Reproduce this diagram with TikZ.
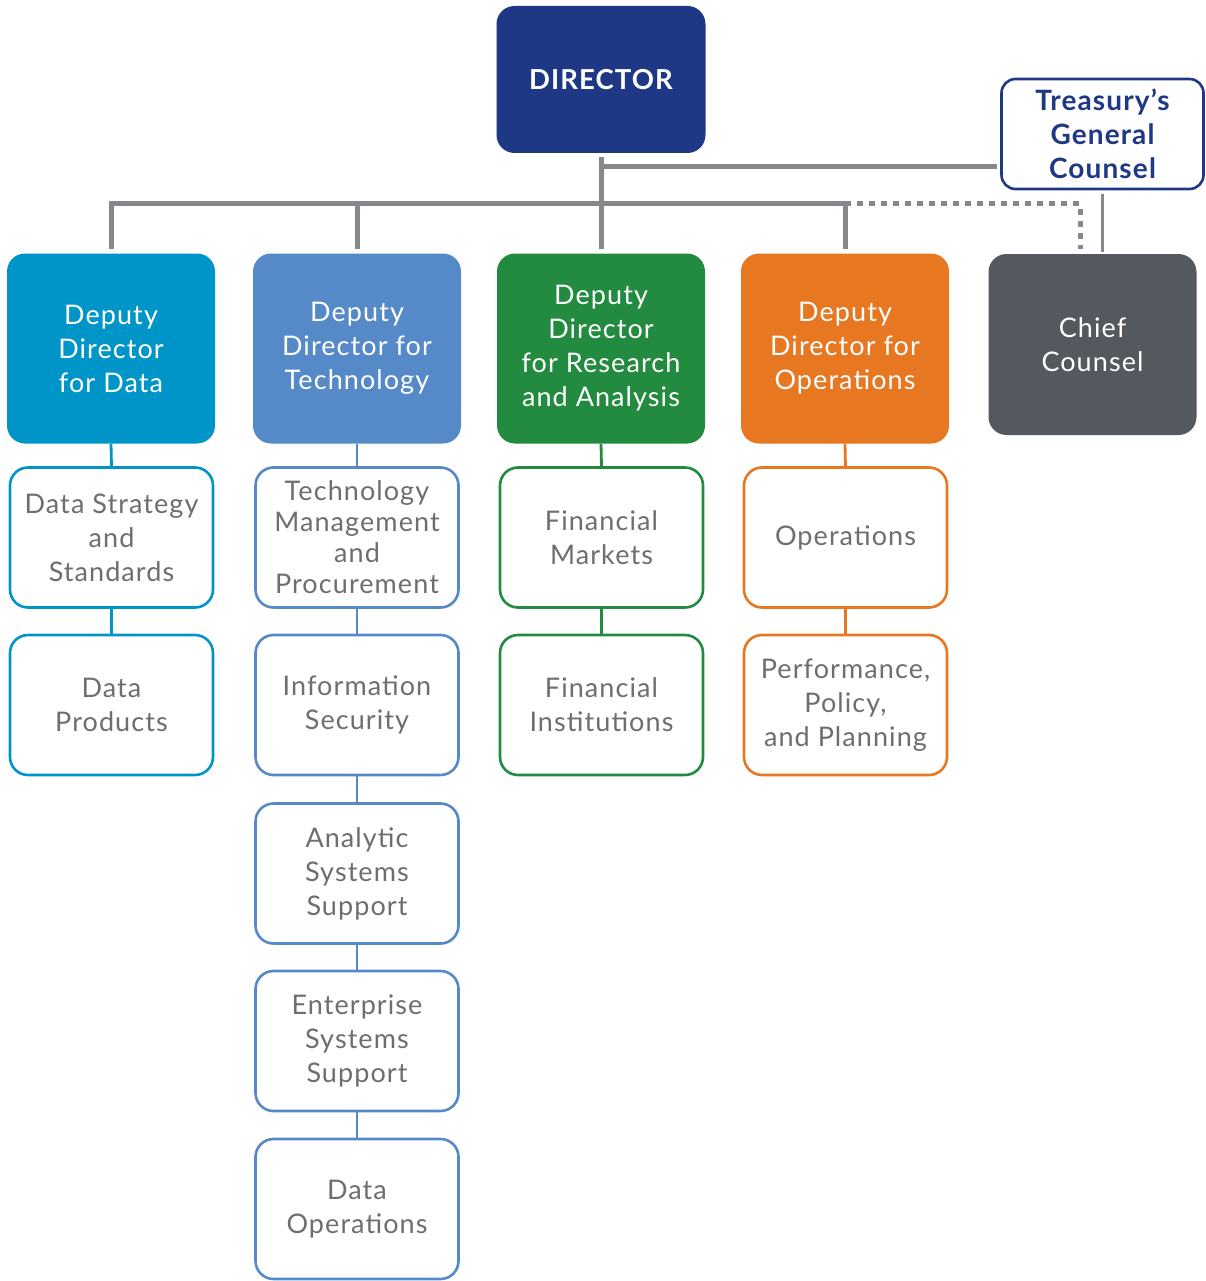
\documentclass[tikz,border=0pt]{standalone}
\usepackage{fontspec}
\setmainfont{Lato}[LetterSpace=4]
\definecolor{cNavy}{HTML}{1F3886}
\definecolor{cData}{HTML}{0095C8}
\definecolor{cTech}{HTML}{5689C8}
\definecolor{cRes}{HTML}{238B3F}
\definecolor{cOps}{HTML}{E87722}
\definecolor{cCC}{HTML}{54585F}
\definecolor{cTxt}{HTML}{6D6E71}
\definecolor{cLine}{HTML}{87888B}
\tikzset{
  box/.style={rectangle, rounded corners=18pt, align=center, inner sep=0pt,
    font=\fontsize{27}{34}\selectfont},
  dep/.style={box, minimum width=208pt, minimum height=190pt, text=white},
  sub/.style={box, draw=#1, line width=2.6pt, fill=white, minimum width=203pt,
    minimum height=140pt, text=cTxt},
  gline/.style={draw=cLine, line width=5pt, line join=miter},
  cline/.style={draw=#1, line width=2.8pt},
}
\begin{document}
\begin{tikzpicture}[x=1pt,y=-1pt]
\useasboundingbox (0,0) rectangle (1205,1281);
% top
\node[box, fill=cNavy, minimum width=209pt, minimum height=147pt, text=white,
  font=\fontsize{27.5}{34}\selectfont\bfseries] (dir) at (601,79.5) {DIRECTOR};
\node[box, draw=cNavy, line width=2.6pt, fill=white, minimum width=202pt,
  minimum height=110pt, rounded corners=14pt, text=cNavy,
  font=\fontsize{28}{34}\selectfont\bfseries] (gc) at (1102.5,134) {Treasury’s\\General\\Counsel};
% deputies
\node[dep, fill=cData] (dd) at (111,348.5) {Deputy\\Director\\for Data};
\node[dep, fill=cTech] (td) at (357,348.5) {Deputy\\Director for\\Technology};
\node[dep, fill=cRes] (rd) at (601,348.5) {Deputy\\Director\\for Research\\and Analysis};
\node[dep, fill=cOps] (od) at (845,348.5) {Deputy\\Director for\\Operations};
\node[dep, fill=cCC, minimum height=181pt] (cc) at (1092.5,344.5) {Chief\\Counsel};
% data column
\node[sub=cData] (d1) at (111.5,537.5) {Data Strategy\\and\\Standards};
\node[sub=cData] (d2) at (111.5,705) {Data\\Products};
% tech column
\node[sub=cTech, font=\fontsize{27}{31}\selectfont] (t1) at (357,537.5) {Technology\\Management\\and\\Procurement};
\node[sub=cTech] (t2) at (357,705) {Information\\Security};
\node[sub=cTech] (t3) at (357,873.5) {Analytic\\Systems\\Support};
\node[sub=cTech] (t4) at (357,1041) {Enterprise\\Systems\\Support};
\node[sub=cTech] (t5) at (357,1209) {Data\\Operations};
% research column
\node[sub=cRes] (r1) at (601.5,537.5) {Financial\\Markets};
\node[sub=cRes] (r2) at (601.5,705) {Financial\\Institutions};
% ops column
\node[sub=cOps] (o1) at (845.5,537.5) {Operations};
\node[sub=cOps] (o2) at (845.5,705) {Performance,\\Policy,\\and Planning};
% colored connectors
\draw[cline=cData] (dd.south) -- (d1.north);
\draw[cline=cData] (d1.south) -- (d2.north);
\draw[cline=cTech] (td.south) -- (t1.north);
\draw[cline=cTech] (t1.south) -- (t2.north);
\draw[cline=cTech] (t2.south) -- (t3.north);
\draw[cline=cTech] (t3.south) -- (t4.north);
\draw[cline=cTech] (t4.south) -- (t5.north);
\draw[cline=cRes] (rd.south) -- (r1.north);
\draw[cline=cRes] (r1.south) -- (r2.north);
\draw[cline=cOps] (od.south) -- (o1.north);
\draw[cline=cOps] (o1.south) -- (o2.north);
% gray connectors
\coordinate (barY) at (0,204);
\coordinate (gcY) at (0,167);
\coordinate (dotX) at (1080,204);
\draw[gline] ([yshift=4pt]dd.north) -- (dd.north |- barY) -- (od.north |- barY) -- ([yshift=4pt]od.north);
\draw[gline] (td.north |- barY) -- ([yshift=4pt]td.north);
\draw[gline, shorten <=4pt] (dir.south) -- ([yshift=4pt]rd.north);
\draw[gline] (dir.south |- gcY) -- ([xshift=-3pt]gc.west |- gcY);
\draw[gline, dash pattern=on 6pt off 6pt] (od.north |- barY) -- (dotX) -- ([yshift=5pt]dotX |- cc.north);
\draw[draw=cLine, line width=2.5pt] ([yshift=-4pt]gc.south) -- ([yshift=2pt]gc.south |- cc.north);
\end{tikzpicture}
\end{document}
